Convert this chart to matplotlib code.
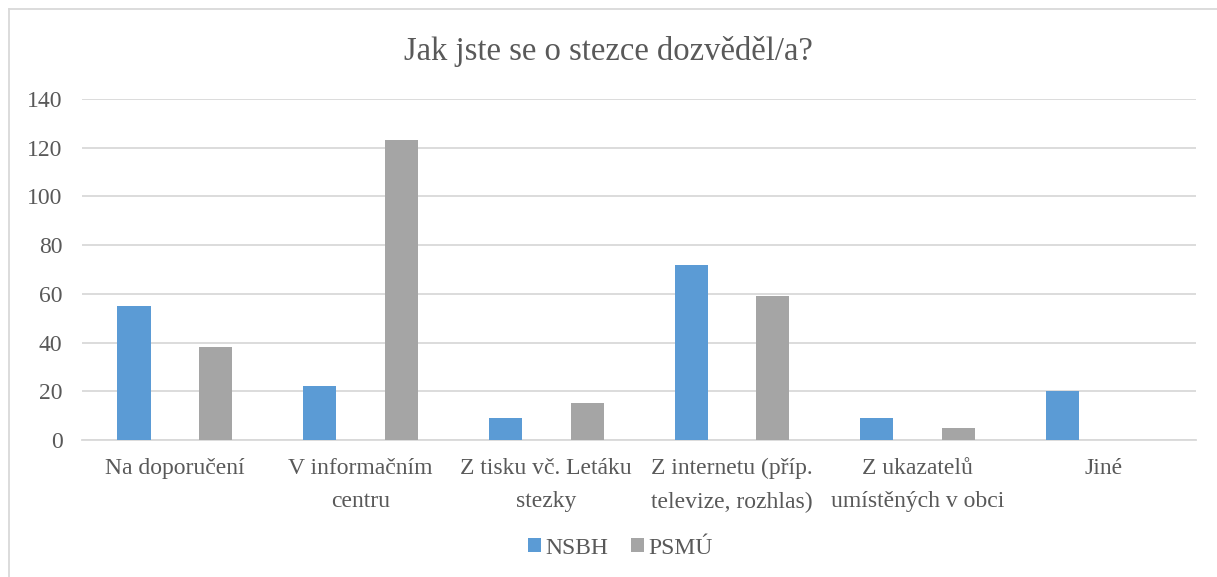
import numpy as np
import matplotlib.pyplot as plt
from matplotlib.lines import Line2D

categories = ["Na doporučení", "V informačním\ncentru", "Z tisku vč. Letáku\nstezky",
              "Z internetu (příp.\ntelevize, rozhlas)", "Z ukazatelů\numístěných v obci", "Jiné"]
nsbh = [55, 22, 9, 72, 9, 20]
psmu = [38, 123, 15, 59, 5, 0]
series_names = ["NSBH", "PSMÚ"]

text_col = "#595959"
plt.rcParams['font.family'] = ['Liberation Serif', 'DejaVu Serif']

fig = plt.figure(figsize=(12.17, 5.77), dpi=100)
ax = fig.add_axes([0.0674, 0.2374, 0.9154, 0.591])

x = np.arange(len(categories))
w = 0.178
ax.bar(x - 0.22, nsbh, w, color="#5B9BD5", label=series_names[0], zorder=3)
ax.bar(x + 0.22, psmu, w, color="#A5A5A5", label=series_names[1], zorder=3)

ax.set_xlim(-0.5, len(categories) - 0.5)
ax.set_ylim(0, 140)
ax.set_yticks(range(0, 141, 20))
ax.set_xticks(x)
ax.set_xticklabels(categories, fontsize=17, color=text_col, linespacing=1.75)
ax.tick_params(axis='y', labelsize=17, labelcolor=text_col, length=0, pad=14)
ax.tick_params(axis='x', length=0, pad=13)
ax.grid(axis='y', color="#D9D9D9", linewidth=1.3, zorder=0)
for s in ["top", "right", "left"]:
    ax.spines[s].set_visible(False)
ax.spines["bottom"].set_color("#D9D9D9")
ax.spines["bottom"].set_linewidth(1.3)

fig.suptitle("Jak jste se o stezce dozvěděl/a?", y=0.937, fontsize=23.5, color=text_col)

fig.legend(loc="center", bbox_to_anchor=(0.51, 0.05), ncol=2, frameon=False,
           fontsize=17, labelcolor=text_col, handlelength=0.55, handleheight=0.55,
           handletextpad=0.2, columnspacing=0.95)

# outer chart frame (left and top edges visible)
fig.add_artist(Line2D([8.5 / 1217, 8.5 / 1217], [0, 1 - 8.5 / 577], color="#D9D9D9", lw=1.3))
fig.add_artist(Line2D([8.5 / 1217, 1], [1 - 8.5 / 577, 1 - 8.5 / 577], color="#D9D9D9", lw=1.3))

fig.savefig("out.png", dpi=100)
